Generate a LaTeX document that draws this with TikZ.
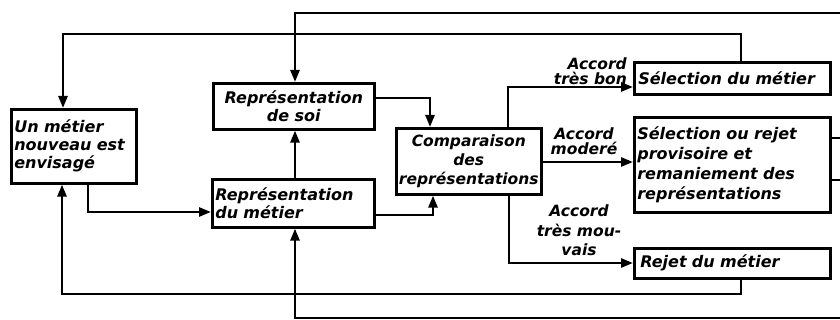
\documentclass[tikz,border=0pt]{standalone}
\usepackage{fontspec}
\setmainfont{DejaVu Sans}
\usetikzlibrary{arrows.meta}
\begin{document}
\begin{tikzpicture}[x=1pt,y=-1pt,
  box/.style={draw, line width=2.6pt, anchor=north west, inner xsep=4pt, inner ysep=0pt,
    font=\fontsize{16}{18}\selectfont\bfseries\itshape},
  lab/.style={inner sep=1pt, font=\fontsize{15.5}{15.5}\selectfont\bfseries\itshape},
  arr/.style={line width=2.6pt, -{Triangle[length=12pt,width=9pt]}}]
\useasboundingbox (0,0) rectangle (840,320);
% boxes
\node[box, text width=119pt, minimum height=74pt, align=left, inner xsep=3pt] (un) at (10,108)
  {Un métier\\nouveau est\\envisagé};
\node[box, text width=153pt, minimum height=46pt, align=center] (soi) at (212,82)
  {Représentation\\de soi};
\node[box, text width=156pt, minimum height=48pt, align=left, inner xsep=3pt] (metier) at (211,178)
  {Représentation\\du métier};
\node[box, text width=143pt, minimum height=66pt, align=center, inner xsep=1pt,
  font=\fontsize{15.5}{19}\selectfont\bfseries\itshape] (comp) at (395,127)
  {Comparaison\\des\\représentations};
\node[box, text width=188pt, minimum height=32pt, align=left] (selm) at (633,61)
  {Sélection du métier};
\node[box, text width=190pt, minimum height=95pt, align=left, inner xsep=3pt,
  font=\fontsize{16}{20}\selectfont\bfseries\itshape] (selr) at (633,116)
  {Sélection ou rejet\\provisoire et\\remaniement des\\représentations};
\node[box, text width=184pt, minimum height=30pt, align=left, inner xsep=6pt] (rejet) at (633,247)
  {Rejet du métier};
% labels
\node[lab, anchor=south east, align=right] (l1) at (628,86) {Accord\\très bon};
\node[lab, anchor=south, align=center] (l2) at (584,156) {Accord\\moderé};
\node[lab, anchor=north, align=center, font=\fontsize{15.5}{19.5}\selectfont\bfseries\itshape] (l3) at (579,204) {Accord\\très mou-\\vais};
% corner coordinates
\coordinate (top1) at (741,34);
\coordinate (top2) at (63,34);
\coordinate (r1a) at (850,138);
\coordinate (r1b) at (850,13);
\coordinate (r1c) at (295,13);
\coordinate (r2a) at (850,180);
\coordinate (r2b) at (850,318);
\coordinate (r2c) at (295,318);
\coordinate (b1) at (741,294);
\coordinate (b2) at (62,294);
\coordinate (u) at (88,212);
\coordinate (s) at (430,98);
\coordinate (m) at (433,215);
\coordinate (cu) at (508,87);
\coordinate (cr) at (540,162);
\coordinate (cd) at (509,263);
% connectors
\draw[arr] (top1 |- selm.north) -- (top1) -- (top2) -- (top2 |- un.north);
\draw[arr] (selr.east |- r1a) -- (r1a) -- (r1b) -- (r1c) -- (r1c |- soi.north);
\draw[arr] (selr.east |- r2a) -- (r2a) -- (r2b) -- (r2c) -- (r2c |- metier.south);
\draw[arr] (b1 |- rejet.south) -- (b1) -- (b2) -- (b2 |- un.south);
\draw[arr] (u |- un.south) -- (u) -- (u -| metier.west);
\draw[arr] (r1c |- metier.north) -- (r1c |- soi.south);
\draw[arr] (soi.east |- s) -- (s) -- (s |- comp.north);
\draw[arr] (metier.east |- m) -- (m) -- (m |- comp.south);
\draw[arr] (cu |- comp.north) -- (cu) -- (cu -| selm.west);
\draw[arr] (comp.east |- cr) -- (cr -| selr.west);
\draw[arr] (cd |- comp.south) -- (cd) -- (cd -| rejet.west);
\end{tikzpicture}
\end{document}
